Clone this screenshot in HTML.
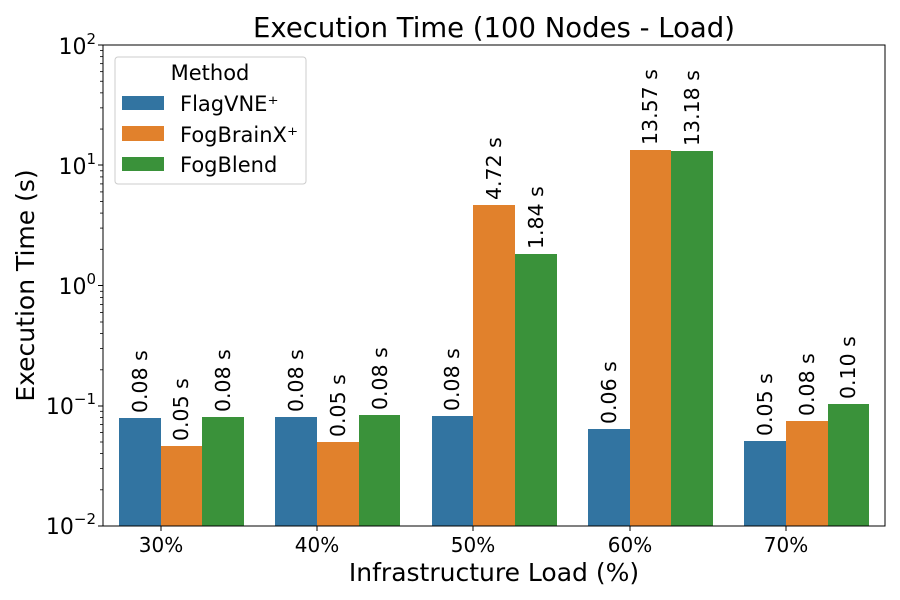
<!DOCTYPE html>
<html><head><meta charset="utf-8"><style>body{margin:0;background:#fff}svg{display:block}text{font-family:"DejaVu Sans","Liberation Sans",sans-serif;fill:#000}</style></head>
<body>
<svg width="900" height="600" viewBox="0 0 900 600" xmlns="http://www.w3.org/2000/svg">
<defs>
<g id="mt" stroke="#000" stroke-width="0.8">
<line x1="100" x2="103" y1="-36.2" y2="-36.2"/><line x1="100" x2="103" y1="-57.4" y2="-57.4"/><line x1="100" x2="103" y1="-72.4" y2="-72.4"/><line x1="100" x2="103" y1="-84" y2="-84"/><line x1="100" x2="103" y1="-93.6" y2="-93.6"/><line x1="100" x2="103" y1="-101.6" y2="-101.6"/><line x1="100" x2="103" y1="-108.6" y2="-108.6"/><line x1="100" x2="103" y1="-114.7" y2="-114.7"/>
</g>
</defs>
<text x="494" y="37" font-size="27.5" text-anchor="middle">Execution Time (100 Nodes - Load)</text>
<g>
<rect x="119" y="418" width="42" height="108" fill="#3274a1"/><rect x="161" y="446" width="41" height="80" fill="#e1812c"/><rect x="202" y="417" width="42" height="109" fill="#3a923a"/>
<rect x="275" y="417" width="42" height="109" fill="#3274a1"/><rect x="317" y="442" width="42" height="84" fill="#e1812c"/><rect x="359" y="415" width="41" height="111" fill="#3a923a"/>
<rect x="432" y="416" width="41" height="110" fill="#3274a1"/><rect x="473" y="205" width="42" height="321" fill="#e1812c"/><rect x="515" y="254" width="42" height="272" fill="#3a923a"/>
<rect x="588" y="429" width="42" height="97" fill="#3274a1"/><rect x="630" y="150" width="41" height="376" fill="#e1812c"/><rect x="671" y="151" width="42" height="375" fill="#3a923a"/>
<rect x="744" y="441" width="42" height="85" fill="#3274a1"/><rect x="786" y="421" width="42" height="105" fill="#e1812c"/><rect x="828" y="404" width="41" height="122" fill="#3a923a"/>
</g>
<g font-size="20.5" dominant-baseline="central">
<text transform="translate(140,413) rotate(-90)">0.08 s</text>
<text transform="translate(181,441) rotate(-90)">0.05 s</text>
<text transform="translate(223,412) rotate(-90)">0.08 s</text>
<text transform="translate(296,412) rotate(-90)">0.08 s</text>
<text transform="translate(338,437) rotate(-90)">0.05 s</text>
<text transform="translate(380,410) rotate(-90)">0.08 s</text>
<text transform="translate(452,411) rotate(-90)">0.08 s</text>
<text transform="translate(494,200) rotate(-90)">4.72 s</text>
<text transform="translate(536,249) rotate(-90)">1.84 s</text>
<text transform="translate(609,424) rotate(-90)">0.06 s</text>
<text transform="translate(650,145) rotate(-90)">13.57 s</text>
<text transform="translate(692,146) rotate(-90)">13.18 s</text>
<text transform="translate(765,436) rotate(-90)">0.05 s</text>
<text transform="translate(807,416) rotate(-90)">0.08 s</text>
<text transform="translate(848,399) rotate(-90)">0.10 s</text>
</g>
<rect x="103" y="45" width="782" height="481" fill="none" stroke="#000" stroke-width="1"/>
<g stroke="#000" stroke-width="1">
<line x1="98" x2="103" y1="45" y2="45"/><line x1="98" x2="103" y1="165" y2="165"/><line x1="98" x2="103" y1="285.5" y2="285.5"/><line x1="98" x2="103" y1="406" y2="406"/><line x1="98" x2="103" y1="526" y2="526"/>
<line x1="161" x2="161" y1="526" y2="531"/><line x1="317" x2="317" y1="526" y2="531"/><line x1="473" x2="473" y1="526" y2="531"/><line x1="630" x2="630" y1="526" y2="531"/><line x1="786" x2="786" y1="526" y2="531"/>
</g>
<use href="#mt" transform="translate(0,526)"/><use href="#mt" transform="translate(0,406)"/><use href="#mt" transform="translate(0,285.5)"/><use href="#mt" transform="translate(0,165.25)"/>
<g font-size="22" text-anchor="end">
<text x="96" y="54">10<tspan font-size="15" dy="-10">2</tspan></text>
<text x="96" y="174">10<tspan font-size="15" dy="-10">1</tspan></text>
<text x="96" y="294">10<tspan font-size="15" dy="-10">0</tspan></text>
<text x="96" y="414">10<tspan font-size="15" dy="-10">−1</tspan></text>
<text x="96" y="534">10<tspan font-size="15" dy="-10">−2</tspan></text>
</g>
<g font-size="20" text-anchor="middle">
<text x="161" y="552">30%</text><text x="317" y="552">40%</text><text x="473" y="552">50%</text><text x="630" y="552">60%</text><text x="786" y="552">70%</text>
</g>
<text x="494" y="581" font-size="25" text-anchor="middle">Infrastructure Load (%)</text>
<text transform="translate(34,285.5) rotate(-90)" font-size="25" text-anchor="middle">Execution Time (s)</text>
<rect x="115" y="57" width="191" height="127" rx="3" fill="#fff" fill-opacity="0.8" stroke="#ccc"/>
<text x="210" y="80" font-size="21" text-anchor="middle">Method</text>
<rect x="122" y="96" width="42" height="14" fill="#3274a1"/>
<rect x="122" y="126" width="42" height="15" fill="#e1812c"/>
<rect x="122" y="157" width="42" height="14" fill="#3a923a"/>
<g font-size="21"><text x="180" y="111">FlagVNE⁺</text><text x="180" y="142">FogBrainX⁺</text><text x="180" y="172">FogBlend</text></g>
</svg>
</body></html>
